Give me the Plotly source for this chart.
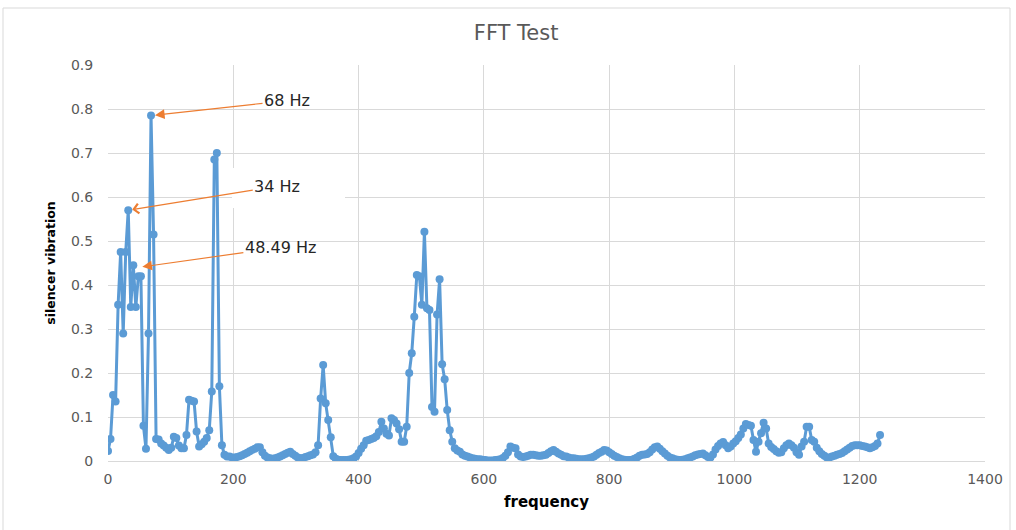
import plotly.graph_objects as go

# FFT bin resolution (Hz) and measured amplitudes
DF = 4.0408
vibration = [
    0.023, 0.05, 0.15, 0.135, 0.355, 0.475, 0.29, 0.475, 0.57, 0.35,
    0.445, 0.35, 0.42, 0.42, 0.08, 0.028, 0.29, 0.785, 0.515, 0.05,
    0.049, 0.04, 0.035, 0.03, 0.025, 0.03, 0.055, 0.052, 0.035, 0.029,
    0.029, 0.059, 0.139, 0.137, 0.135, 0.067, 0.033, 0.038, 0.044, 0.052,
    0.07, 0.158, 0.685, 0.70, 0.17, 0.036,
    0.014, 0.01, 0.01, 0.008, 0.008, 0.009, 0.011, 0.013, 0.016, 0.019,
    0.022, 0.025, 0.028, 0.031, 0.031, 0.02, 0.012, 0.008, 0.006, 0.005,
    0.006, 0.008, 0.01, 0.013, 0.016, 0.019, 0.021, 0.016, 0.012, 0.008,
    0.006, 0.007, 0.009, 0.011, 0.013, 0.015, 0.02, 0.036,
    0.142, 0.218, 0.131, 0.093, 0.054, 0.011,
    0.005, 0.003, 0.002, 0.002, 0.002, 0.003, 0.004, 0.006, 0.01, 0.018,
    0.028, 0.036, 0.046, 0.048, 0.05, 0.052, 0.056, 0.066, 0.089, 0.074,
    0.062, 0.058, 0.097, 0.093, 0.085, 0.072, 0.044, 0.044, 0.078, 0.2,
    0.245, 0.328,
    0.423, 0.42, 0.355, 0.521, 0.347, 0.343, 0.123, 0.112, 0.333, 0.413,
    0.22, 0.186, 0.116, 0.07, 0.044, 0.029,
    0.024, 0.021, 0.015, 0.012, 0.01, 0.008, 0.006, 0.005, 0.004, 0.004,
    0.003, 0.002, 0.001, 0.001, 0.001, 0.002, 0.003, 0.004, 0.007, 0.012,
    0.02, 0.033, 0.03, 0.029, 0.015, 0.01, 0.009, 0.01, 0.012, 0.014,
    0.014, 0.013, 0.012, 0.012, 0.013, 0.014, 0.018, 0.022, 0.025, 0.021,
    0.017, 0.014, 0.011, 0.01, 0.008, 0.006, 0.006, 0.005, 0.004, 0.004,
    0.004, 0.005, 0.006, 0.008, 0.01, 0.014, 0.018, 0.021, 0.025, 0.024,
    0.02, 0.016, 0.012, 0.009, 0.006, 0.004, 0.003, 0.002, 0.002, 0.003,
    0.005, 0.008, 0.012, 0.014, 0.015, 0.016, 0.02, 0.026, 0.031, 0.033,
    0.028, 0.022, 0.017, 0.012, 0.008, 0.006, 0.004, 0.003, 0.002, 0.003,
    0.004, 0.006, 0.008, 0.01, 0.013, 0.015, 0.016, 0.017, 0.013, 0.009,
    0.008, 0.015, 0.026, 0.034, 0.04, 0.043, 0.036, 0.029, 0.033, 0.04,
    0.045, 0.052, 0.06, 0.074, 0.084, 0.082, 0.08, 0.048, 0.021, 0.044,
    0.063, 0.087, 0.074, 0.04, 0.032, 0.027, 0.022, 0.019, 0.02, 0.029,
    0.036, 0.04, 0.036, 0.03, 0.02, 0.014, 0.033, 0.044, 0.078, 0.078,
    0.048, 0.044, 0.03, 0.022, 0.016, 0.012, 0.008, 0.008, 0.01, 0.012,
    0.014, 0.016, 0.018, 0.022, 0.026, 0.03, 0.034, 0.036, 0.036, 0.036,
    0.034, 0.033, 0.031, 0.029, 0.031, 0.034, 0.04, 0.059,
]
frequency = [round(i * DF, 3) for i in range(len(vibration))]

x_ticks = [0, 200, 400, 600, 800, 1000, 1200, 1400]
y_ticks = [0, 0.1, 0.2, 0.3, 0.4, 0.5, 0.6, 0.7, 0.8, 0.9]
y_tick_text = ["0", "0.1", "0.2", "0.3", "0.4", "0.5", "0.6", "0.7", "0.8", "0.9"]

# annotated peaks
peak_labels = ["68 Hz", "34 Hz", "48.49 Hz"]
peak_x = [68.69, 32.33, 48.49]
peak_y = [0.785, 0.57, 0.44]

BLUE = "#5B9BD5"
ORANGE = "#ED7D31"
GRID = "#D9D9D9"
TXT = "#595959"
FONT = "'DejaVu Sans', 'Open Sans', sans-serif"

fig = go.Figure()
fig.add_trace(go.Scatter(
    x=frequency, y=vibration, mode="lines+markers",
    line=dict(color=BLUE, width=3),
    marker=dict(color=BLUE, size=8, symbol="circle"),
    showlegend=False, hoverinfo="x+y",
))

fig.update_layout(
    width=1016, height=530,
    margin=dict(l=108, r=31, t=65, b=69),
    paper_bgcolor="white", plot_bgcolor="white",
    font=dict(family=FONT, color=TXT, size=14),
    title=dict(text="FFT Test", x=0.508, xref="container", xanchor="center",
               y=1 - 33 / 530, yref="container", yanchor="middle",
               font=dict(family=FONT, size=21, color=TXT)),
)
fig.update_xaxes(
    range=[0, 1400], tickvals=x_ticks, ticktext=[str(v) for v in x_ticks],
    showgrid=True, gridcolor=GRID, gridwidth=1,
    zeroline=False, showline=True, linecolor=GRID, linewidth=1,
    ticks="outside", ticklen=5, tickcolor="rgba(0,0,0,0)",
    tickfont=dict(family=FONT, size=14, color=TXT),
    title=dict(text="<b>frequency</b>", standoff=10,
               font=dict(family=FONT, size=15, color="#000000")),
)
fig.update_yaxes(
    range=[0, 0.9], tickvals=y_ticks, ticktext=y_tick_text,
    showgrid=True, gridcolor=GRID, gridwidth=1,
    zeroline=False, showline=False,
    ticks="outside", ticklen=11, tickcolor="rgba(0,0,0,0)",
    tickfont=dict(family=FONT, size=14, color=TXT),
    title=dict(text="<b>silencer vibration</b>", standoff=12,
               font=dict(family=FONT, size=12.5, color="#000000")),
)

# chart outer border
fig.add_shape(type="rect", xref="paper", yref="paper",
              x0=(3 - 108) / 877, x1=(1010 - 108) / 877,
              y0=(461 - 540) / 396, y1=(461 - 8) / 396,
              line=dict(color="#D9D9D9", width=1), layer="below")

# white box behind the 34 Hz label
fig.add_shape(type="rect", xref="paper", yref="paper",
              x0=(232 - 108) / 877, x1=(345 - 108) / 877,
              y0=(461 - 208) / 396, y1=(461 - 168) / 396,
              line=dict(width=0), fillcolor="white", layer="above")

offsets = [(136, -15, 2), (149, -24, 4), (142, -20, 2)]
for lab, px, py, (ax, ay, head) in zip(peak_labels, peak_x, peak_y, offsets):
    fig.add_annotation(
        x=px, y=py, xref="x", yref="y", text=lab,
        showarrow=True, ax=ax, ay=ay, axref="pixel", ayref="pixel",
        arrowhead=head, arrowsize=1.6, arrowwidth=1.2, arrowcolor=ORANGE,
        standoff=4,
        font=dict(family=FONT, size=16, color="#262626"),
    )

fig.write_html("out.html")
